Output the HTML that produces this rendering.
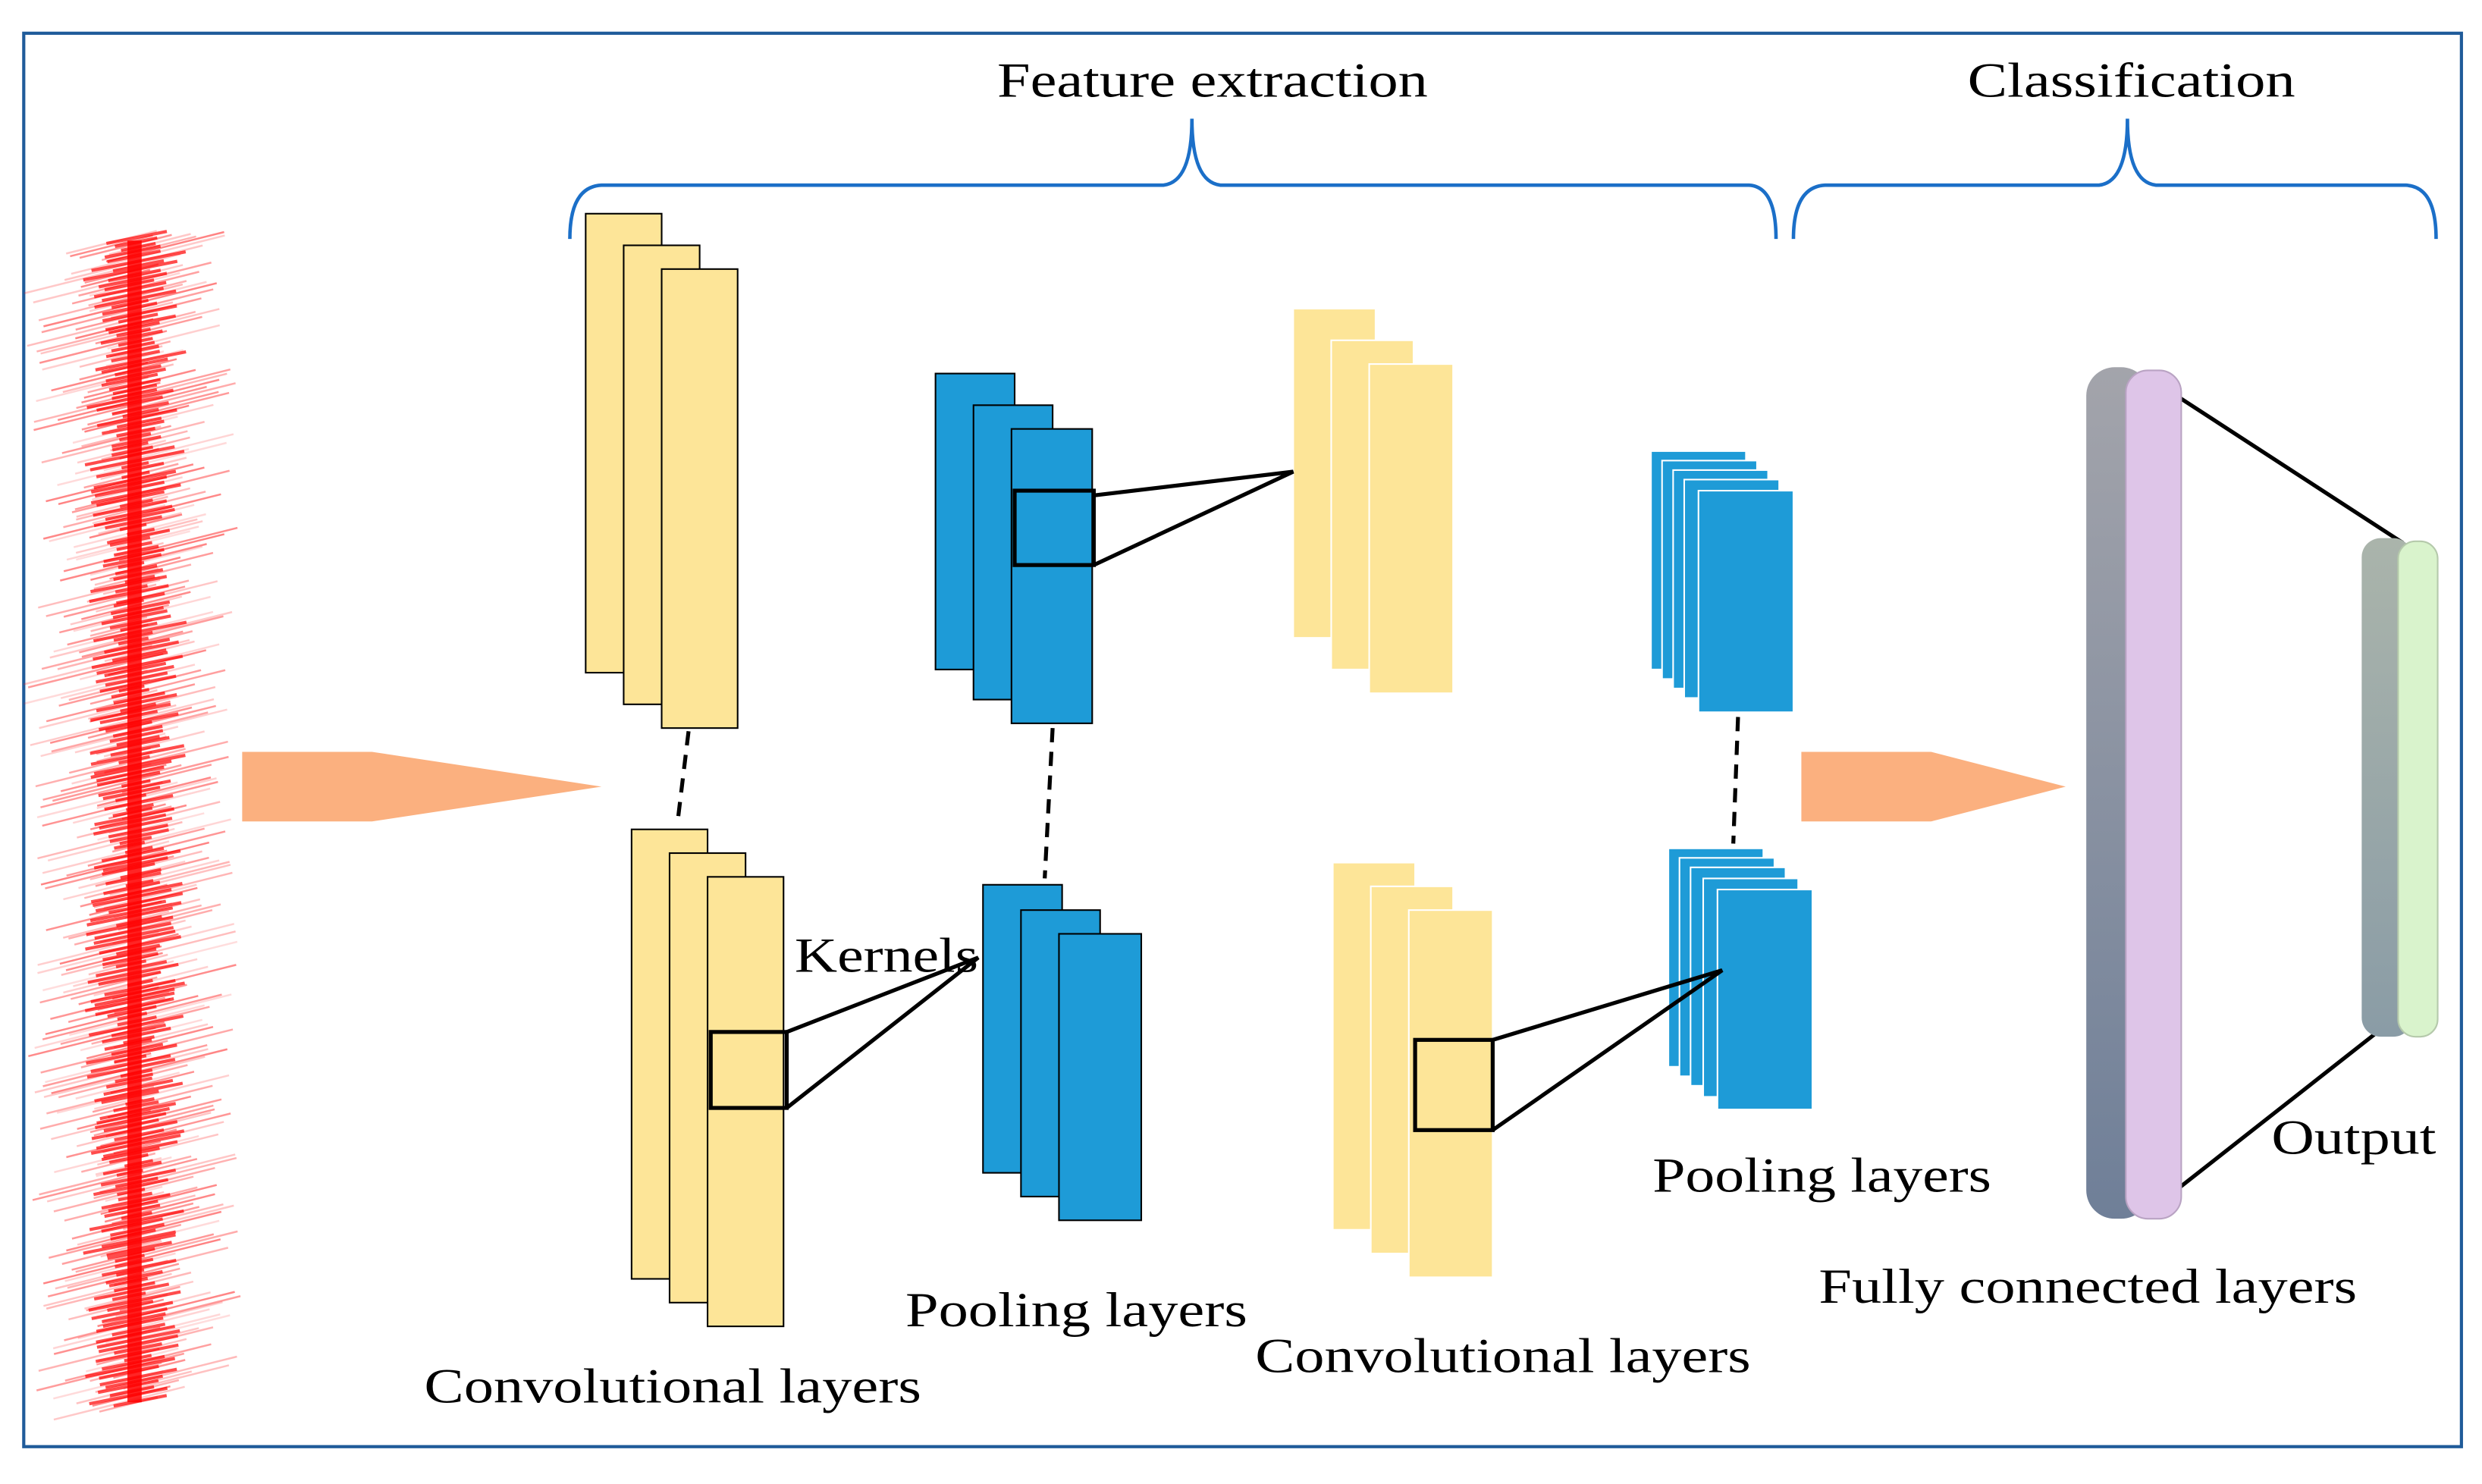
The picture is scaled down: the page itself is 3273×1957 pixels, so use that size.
<!DOCTYPE html>
<html><head><meta charset="utf-8"><style>
html,body{margin:0;padding:0;background:#fff;}
svg{display:block;}
text{font-family:"Liberation Serif",serif;fill:#000;}
</style></head><body>
<svg id="s" width="3273" height="1957" viewBox="0 0 1568 937.6" preserveAspectRatio="none" xmlns="http://www.w3.org/2000/svg">
<defs>
<linearGradient id="g1" x1="0" y1="0" x2="0" y2="1"><stop offset="0" stop-color="#a3a4ab"/><stop offset="1" stop-color="#6f7f98"/></linearGradient>
<linearGradient id="g2" x1="0" y1="0" x2="0" y2="1"><stop offset="0" stop-color="#aab4ab"/><stop offset="1" stop-color="#8a9ca6"/></linearGradient>
</defs>
<rect x="15" y="21" width="1540" height="893" fill="none" stroke="#1f5b9a" stroke-width="2"/>
<g id="wave"></g>
<text x="630" y="61" font-size="31" textLength="272" lengthAdjust="spacingAndGlyphs">Feature extraction</text>
<text x="1243" y="61" font-size="31" textLength="207" lengthAdjust="spacingAndGlyphs">Classification</text>
<path d="M360,151 Q360,118 380,117 L735,117 Q753,115 753,75 Q753,115 771,117 L1105,117 Q1122,118 1122,151" fill="none" stroke="#1b6fc8" stroke-width="2.2"/>
<path d="M1133,151 Q1133,118 1153,117 L1326,117 Q1344,115 1344,75 Q1344,115 1362,117 L1520,117 Q1539,118 1539,151" fill="none" stroke="#1b6fc8" stroke-width="2.2"/>
<polygon points="153,475 235,475 380,497 235,519 153,519" fill="#fbb07f"/>
<polygon points="1138,475 1220,475 1305,497 1220,519 1138,519" fill="#fbb07f"/>
<g fill="#fde598" stroke="#000" stroke-width="1">
<rect x="370" y="135" width="48" height="290"/><rect x="394" y="155" width="48" height="290"/><rect x="418" y="170" width="48" height="290"/>
<rect x="399" y="524" width="48" height="284"/><rect x="423" y="539" width="48" height="284"/><rect x="447" y="554" width="48" height="284"/>
</g>
<g fill="#fde598" stroke="#fff" stroke-width="1">
<rect x="817" y="195" width="52" height="208"/><rect x="841" y="215" width="52" height="208"/><rect x="865" y="230" width="53" height="208"/>
<rect x="842" y="545" width="52" height="232"/><rect x="866" y="560" width="52" height="232"/><rect x="890" y="575" width="53" height="232"/>
</g>
<g fill="#1e9bd7" stroke="#000" stroke-width="1">
<rect x="591" y="236" width="50" height="187"/><rect x="615" y="256" width="50" height="186"/><rect x="639" y="271" width="51" height="186"/>
<rect x="621" y="559" width="50" height="182"/><rect x="645" y="575" width="50" height="181"/><rect x="669" y="590" width="52" height="181"/>
</g>
<g fill="#1e9bd7" stroke="#fff" stroke-width="1">
<rect x="1043" y="285" width="60" height="138"/><rect x="1050" y="291" width="60" height="138"/><rect x="1057" y="297" width="60" height="138"/><rect x="1064" y="303" width="60" height="138"/><rect x="1073" y="310" width="60" height="140"/>
<rect x="1054" y="536" width="60" height="138"/><rect x="1061" y="542" width="60" height="138"/><rect x="1068" y="548" width="60" height="138"/><rect x="1076" y="555" width="60" height="138"/><rect x="1085" y="562" width="60" height="139"/>
</g>
<g fill="none" stroke="#000" stroke-width="2.5">
<rect x="449" y="652" width="48" height="48"/>
<path d="M497,652 L618,605 L497,700"/>
<rect x="641" y="310" width="50" height="47"/>
<path d="M691,313 L817,298 L691,357"/>
<rect x="894" y="657" width="49" height="57"/>
<path d="M943,657 L1088,613 L943,714"/>
<path d="M1355,237 L1518,343"/><path d="M1362,762 L1502,652"/>
<g stroke-dasharray="9,6" stroke-width="2.5"><path d="M435,462 L428,520"/><path d="M665,460 L660,555"/><path d="M1098,453 L1095,533"/></g>
</g>
<rect x="1318" y="232" width="40" height="538" rx="18" fill="url(#g1)"/>
<rect x="1343" y="234" width="35" height="536" rx="14" fill="#dec5e8" stroke="#b9a3c3" stroke-width="1"/>
<rect x="1492" y="340" width="32" height="315" rx="12" fill="url(#g2)"/>
<rect x="1515" y="342" width="25" height="313" rx="11" fill="#d9f3cc" stroke="#b5c9ab" stroke-width="1"/>
<text x="502" y="614" font-size="31" textLength="116" lengthAdjust="spacingAndGlyphs">Kernels</text>
<text x="268" y="886" font-size="31" textLength="314" lengthAdjust="spacingAndGlyphs">Convolutional layers</text>
<text x="572" y="838" font-size="31" textLength="216" lengthAdjust="spacingAndGlyphs">Pooling layers</text>
<text x="793" y="867" font-size="31" textLength="313" lengthAdjust="spacingAndGlyphs">Convolutional layers</text>
<text x="1044" y="753" font-size="31" textLength="214" lengthAdjust="spacingAndGlyphs">Pooling layers</text>
<text x="1149" y="823" font-size="31" textLength="340" lengthAdjust="spacingAndGlyphs">Fully connected layers</text>
<text x="1435" y="729" font-size="31" textLength="104" lengthAdjust="spacingAndGlyphs">Output</text>
</svg>
<script>
(function(){var g=document.getElementById('wave'),s=7;
function r(){s=(s*9301+49297)%233280;return s/233280;}
var h='';
for(var y=150;y<888;y+=2.4){var c=85+Math.sin(y/40)*4+(r()-0.5)*6;var L=10+r()*55;var R=10+r()*55;
h+='<line x1="'+(c-L).toFixed(1)+'" y1="'+(y+L*0.25).toFixed(1)+'" x2="'+(c+R).toFixed(1)+'" y2="'+(y-R*0.25).toFixed(1)+'" stroke="#ff1a1a" stroke-opacity="'+(0.15+r()*0.4).toFixed(2)+'" stroke-width="1.2"/>';}
for(var y=150;y<888;y+=3){var c=85+(r()-0.5)*8;var w=8+r()*22;
h+='<line x1="'+(c-w).toFixed(1)+'" y1="'+(y+w*0.2).toFixed(1)+'" x2="'+(c+w).toFixed(1)+'" y2="'+(y-w*0.2).toFixed(1)+'" stroke="#ff0000" stroke-opacity="0.7" stroke-width="2"/>';}
h+='<path d="M85,152 L85,886" stroke="#ff0000" stroke-width="9" opacity="0.85"/>';
g.innerHTML=h;})();
</script>
</body></html>
